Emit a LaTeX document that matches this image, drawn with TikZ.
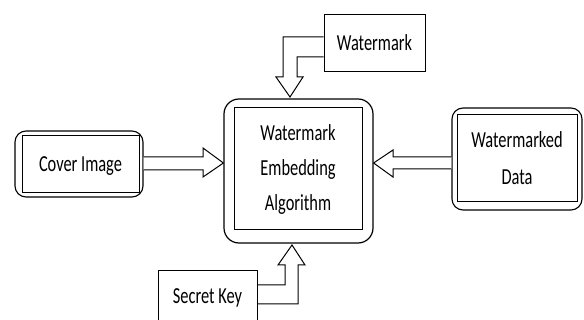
\documentclass[tikz,border=0pt]{standalone}
\usepackage{fontspec}
\setmainfont{Carlito}
\usetikzlibrary{calc}
\newcommand{\lbl}[2][25]{\scalebox{1}[1.4]{\fontsize{16.4}{#1}\selectfont\begin{tabular}{@{}c@{}}#2\end{tabular}}}
\tikzset{
  outerbox/.style={draw, line width=1.1pt, rounded corners=11pt, inner sep=0pt, minimum width=#1},
  innerbox/.style={draw, line width=1pt, inner sep=0pt},
  plainbox/.style={draw, line width=1pt, inner sep=0pt},
  blockarrow/.style={draw, line width=1pt, fill=white, line join=miter}
}
\begin{document}
\begin{tikzpicture}[x=1pt,y=-1pt]
\useasboundingbox (0,0) rectangle (584,320);
% Cover image
\node[outerbox=128pt, minimum height=66pt] (coverO) at (79,164) {};
\node[innerbox, minimum width=117pt, minimum height=57pt] (cover) at (80.5,164.5) {\lbl{Cover Image}};
% central
\node[outerbox=149pt, minimum height=144pt, rounded corners=15pt, line width=1.2pt] (algO) at (298.5,171) {};
\node[innerbox, minimum width=128pt, minimum height=122pt] (alg) at (298,169) {\lbl{Watermark\\Embedding\\Algorithm}};
% Watermark
\node[plainbox, minimum width=101pt, minimum height=57pt] (wm) at (374.5,43.5) {\lbl{Watermark}};
% Watermarked data
\node[outerbox=130pt, minimum height=102pt] (wmdO) at (517,159) {};
\node[innerbox, minimum width=120pt, minimum height=87pt] (wmd) at (517,158.5) {\lbl[26.4]{Watermarked\\Data}};
% Secret key
\node[plainbox, minimum width=99pt, minimum height=56pt, anchor=north west] (key) at (158,270) {};
\node (keytxt) at (207.5,297) {\lbl{Secret Key}};
% arrows
\draw[blockarrow] (coverO.east |- 0,157) -- (203,157) -- (203,148) -- (algO.west |- 0,163) -- (203,177) -- (203,170) -- (coverO.east |- 0,170);
\draw[blockarrow] (wmdO.west |- 0,157) -- (393,157) -- (393,150) -- (algO.east |- 0,163) -- (393,177) -- (393,169) -- (wmdO.west |- 0,169);
\draw[blockarrow] (wm.west |- 0,37) -- (283,37) -- (283,77) -- (276,77) -- (290,97) -- (303,77) -- (297,77) -- (297,57) -- (wm.west |- 0,57);
\draw[blockarrow] (key.east |- 0,285) -- (285,285) -- (285,265) -- (278,265) -- (292,245) -- (305,265) -- (298,265) -- (298,304) -- (key.east |- 0,304);
\end{tikzpicture}
\end{document}
